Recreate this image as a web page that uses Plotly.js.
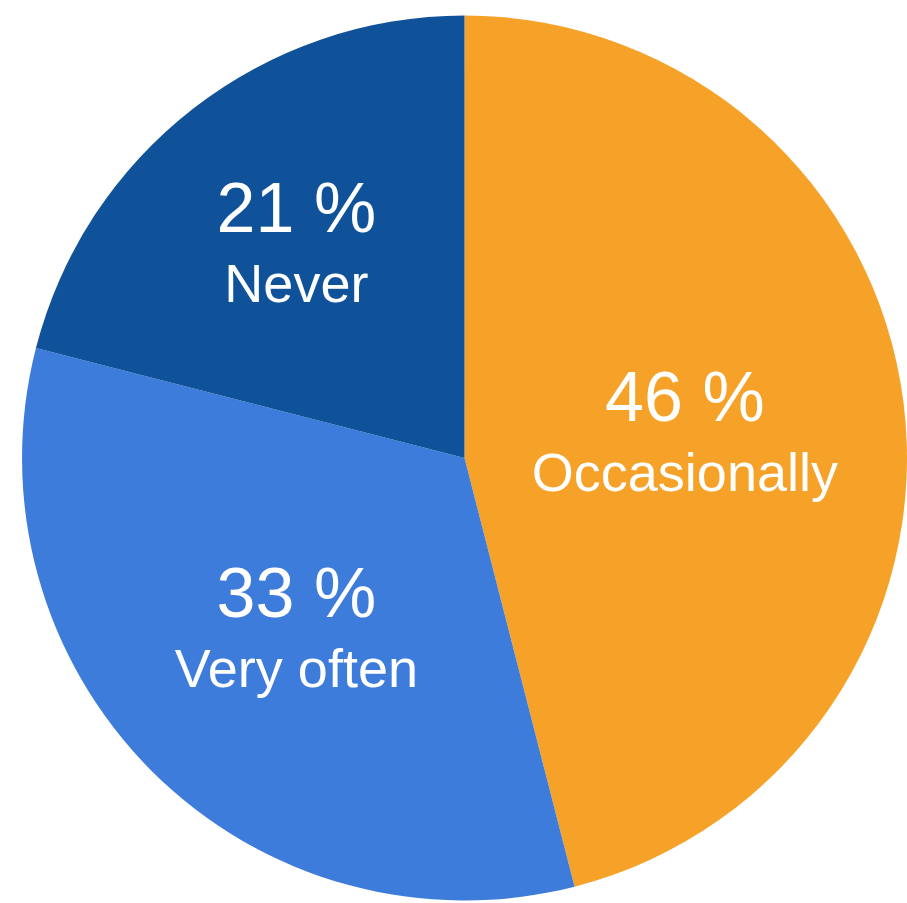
<!DOCTYPE html>
<html>
<head>
<meta charset="utf-8">
<script src="https://cdn.plot.ly/plotly-3.0.1.min.js"></script>
<style>html,body{margin:0;padding:0;background:#fff;}#chart{width:907px;height:903px;}</style>
</head>
<body>
<div id="chart"></div>
<script>
const categories = ["Occasionally", "Very often", "Never"];
const values = [46, 33, 21];
const colors = ["#F6A229", "#3D7CDA", "#0F5299"];

const trace = {
  type: "pie",
  labels: categories,
  values: values,
  sort: false,
  direction: "clockwise",
  rotation: 0,
  marker: {colors: colors, line: {width: 0}},
  textinfo: "text",
  texttemplate: "<span style='font-size:70px'>%{value} %</span><br>%{label}",
  textposition: "inside",
  insidetextorientation: "horizontal",
  insidetextfont: {family: "Liberation Sans, Arial, sans-serif", size: 54, color: "#ffffff"},
  hoverinfo: "none",
  domain: {x: [0.0243, 1], y: [0.001, 0.9845]}
};

const layout = {
  width: 907,
  height: 903,
  margin: {l: 0, r: 0, t: 0, b: 0},
  showlegend: false,
  paper_bgcolor: "#ffffff"
};

Plotly.newPlot("chart", [trace], layout, {displayModeBar: false, staticPlot: true});
</script>
</body>
</html>
